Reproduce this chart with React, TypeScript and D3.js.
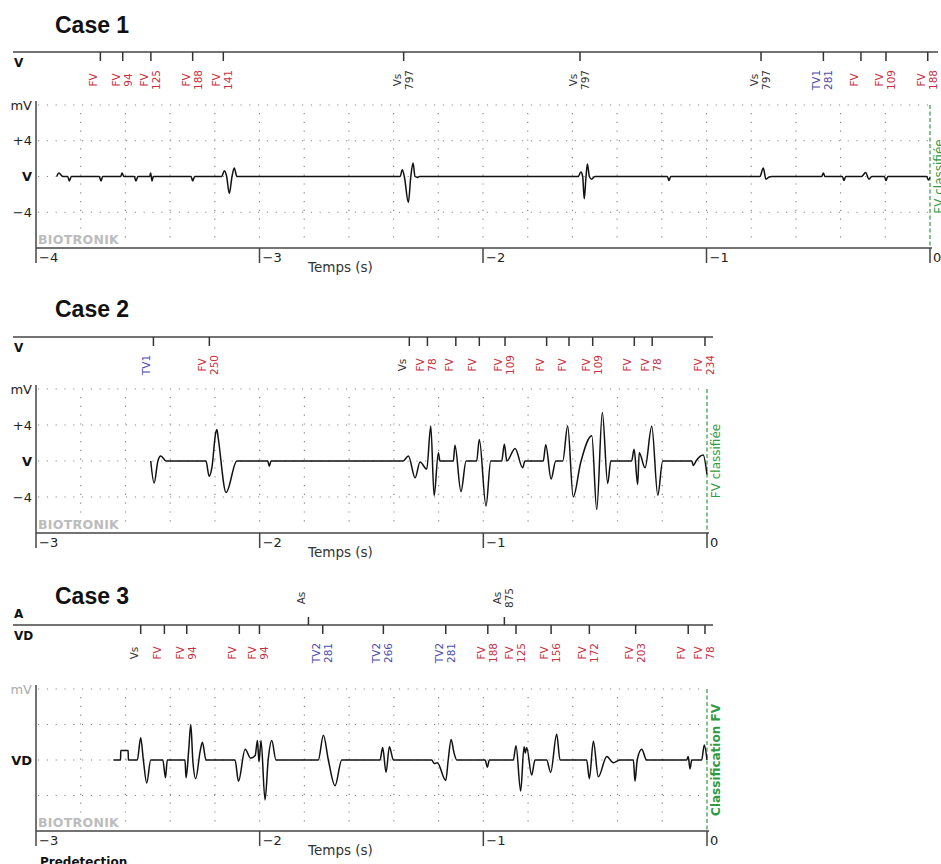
import React from "react";
import * as d3 from "d3";

// marker channel annotations (time in s before detection)
const case1MarkerTimes = [-3.712, -3.612, -3.486, -3.299, -3.162, -2.355, -1.566, -0.756, -0.477, -0.309, -0.197, -0.01];
const case1MarkerNames = ["FV", "FV", "FV", "FV", "FV", "Vs", "Vs", "Vs", "TV1", "FV", "FV", "FV"];
const case1MarkerIntervals = ["", "94", "125", "188", "141", "797", "797", "797", "281", "", "109", "188"];

const case2MarkerTimes = [-2.475, -2.225, -1.331, -1.25, -1.123, -1.018, -0.903, -0.717, -0.617, -0.511, -0.325, -0.245, -0.009];
const case2MarkerNames = ["TV1", "FV", "Vs", "FV", "FV", "FV", "FV", "FV", "FV", "FV", "FV", "FV", "FV"];
const case2MarkerIntervals = ["", "250", "", "78", "", "", "109", "", "", "109", "", "78", "234"];

const case3AtrialTimes = [-1.782, -0.906];
const case3AtrialNames = ["As", "As"];
const case3AtrialIntervals = ["", "875"];

const case3MarkerTimes = [-2.532, -2.426, -2.326, -2.091, -2.001, -1.718, -1.447, -1.168, -0.98, -0.854, -0.697, -0.526, -0.319, -0.084, -0.009];
const case3MarkerNames = ["Vs", "FV", "FV", "FV", "FV", "TV2", "TV2", "TV2", "FV", "FV", "FV", "FV", "FV", "FV", "FV"];
const case3MarkerIntervals = ["", "", "94", "", "94", "281", "266", "281", "188", "125", "156", "172", "203", "", "78"];

// IEGM traces: [time s, mV]
const case1Trace: [number, number][] = [
  [-3.907, 0], [-3.898, 0.4], [-3.88, 0], [-3.858, 0], [-3.851, -0.5], [-3.842, 0],
  [-3.717, 0], [-3.709, -0.5], [-3.702, 0],
  [-3.621, 0], [-3.615, 0.4], [-3.607, 0],
  [-3.56, 0], [-3.553, -0.5], [-3.544, 0],
  [-3.491, 0], [-3.487, 0.4], [-3.481, -0.5], [-3.475, 0],
  [-3.306, 0], [-3.299, -0.5], [-3.29, 0],
  [-3.169, 0], [-3.157, 0.65], [-3.147, 0], [-3.135, -1.9], [-3.123, 0], [-3.113, 0.95], [-3.101, 0],
  [-2.371, 0], [-2.361, 0.75], [-2.352, 0], [-2.334, -2.9], [-2.323, 0], [-2.313, 1.5], [-2.304, 0], [-2.292, -0.1], [-2.285, 0],
  [-1.574, 0], [-1.562, 0.5], [-1.554, 0], [-1.547, -2.5], [-1.539, 0], [-1.533, 1.4], [-1.524, 0], [-1.514, -0.3], [-1.499, 0],
  [-1.175, 0], [-1.168, -0.45], [-1.16, 0],
  [-0.761, 0], [-0.746, 0.95], [-0.734, -0.3], [-0.722, -0.1], [-0.708, 0],
  [-0.485, 0], [-0.477, 0.38], [-0.47, 0],
  [-0.392, 0], [-0.385, -0.45], [-0.377, 0],
  [-0.306, 0], [-0.288, 0.45], [-0.273, -0.3], [-0.261, 0],
  [-0.204, 0], [-0.197, -0.45], [-0.189, 0],
  [-0.015, 0], [-0.007, -0.4], [0, -0.1],
];

const case2Trace: [number, number][] = [
  [-2.487, 0], [-2.472, -2.45], [-2.455, 0], [-2.442, 0.55], [-2.418, 0],
  [-2.24, 0], [-2.226, -1.7], [-2.214, -0.8], [-2.196, 3.2], [-2.191, 3.5], [-2.185, 2.5], [-2.15, -3.5], [-2.102, 0],
  [-1.964, 0], [-1.957, -0.57], [-1.949, 0],
  [-1.359, 0], [-1.335, 0.56], [-1.305, -1.87], [-1.283, -0.1], [-1.253, -0.9], [-1.235, 3.9], [-1.22, -3.85], [-1.201, 0.93], [-1.194, 0],
  [-1.134, 0], [-1.127, 1.75], [-1.1, -3.4], [-1.077, 0],
  [-1.03, 0], [-1.018, 2.4], [-0.988, -5], [-0.967, 0],
  [-0.918, 0], [-0.906, 1.87], [-0.895, 0], [-0.858, 1.4], [-0.824, -0.75], [-0.814, 0],
  [-0.732, 0], [-0.721, 1.8], [-0.697, -2], [-0.676, 0],
  [-0.645, 0], [-0.623, 3.9], [-0.598, -4], [-0.565, -0.2], [-0.515, 2.8], [-0.493, -5.4], [-0.468, 5.4], [-0.444, -2.5], [-0.43, 0],
  [-0.337, 0], [-0.326, 1.3], [-0.31, -2.6], [-0.303, 0.93], [-0.277, -0.75], [-0.247, 3.85], [-0.22, -3.8], [-0.198, 0],
  [-0.068, 0], [-0.061, -0.5], [-0.049, 0], [-0.017, 0.67], [0, -1.5],
];

const case3Trace: [number, number][] = [
  [-2.654, 0], [-2.622, 0], [-2.621, 1.07], [-2.588, 1.07], [-2.587, 0],
  [-2.547, 0], [-2.532, 2.5], [-2.52, 0], [-2.505, -2.6], [-2.487, 0],
  [-2.433, 0], [-2.421, -2.0], [-2.413, 0],
  [-2.334, 0], [-2.329, -2.0], [-2.317, 1.2], [-2.308, 4.0], [-2.299, 0], [-2.286, -2.1], [-2.266, 1.0], [-2.256, 2.0], [-2.24, 0],
  [-2.11, 0], [-2.095, -2.4], [-2.065, 1.2], [-2.04, 0.2], [-2.02, 0.5], [-2.01, 2.2], [-2.003, -0.2], [-1.994, 2.2], [-1.976, -4.5], [-1.962, 0], [-1.946, 2.2], [-1.927, 0],
  [-1.738, 0], [-1.715, 2.8], [-1.693, 0], [-1.663, -2.9], [-1.633, 0],
  [-1.462, 0], [-1.45, 1.4], [-1.435, -1.4], [-1.42, 1.5], [-1.402, 0],
  [-1.231, 0], [-1.219, -0.4], [-1.206, -0.3], [-1.168, -2.3], [-1.157, 0], [-1.144, 2.3], [-1.131, 0.8], [-1.119, 0],
  [-0.992, 0], [-0.982, -0.8], [-0.973, 0],
  [-0.866, 0], [-0.854, 1.6], [-0.833, -3.5], [-0.818, 1.5], [-0.812, 0.8], [-0.806, 1.4], [-0.784, -1.7], [-0.769, 0],
  [-0.717, 0], [-0.699, -1.4], [-0.672, 2.9], [-0.657, 0],
  [-0.538, 0], [-0.526, -2.1], [-0.508, 2.1], [-0.486, -1.9], [-0.448, 0.4], [-0.419, -0.3], [-0.389, 0],
  [-0.329, 0], [-0.322, -2.4], [-0.312, 0], [-0.292, 1.2], [-0.27, 0],
  [-0.091, 0], [-0.084, 0.4], [-0.076, -1.0], [-0.068, 0], [-0.024, 0], [-0.012, 1.7], [0, 0],
];

const FONT = "'DejaVu Sans', Verdana, sans-serif";
const RED = "#c8303f";
const BLUE = "#4d4dab";
const GREEN = "#2f9a45";
const GRID = "#8a8a8a";

const markerColor = (n: string) => (n.startsWith("FV") ? RED : n.startsWith("TV") ? BLUE : "#333");

type Markers = { times: number[]; names: string[]; vals: string[] };

const Marks = ({ m, x, lineY, up }: { m: Markers; x: (t: number) => number; lineY: number; up?: boolean }) => (
  <g>
    {m.times.map((t, i) => {
      const px = x(t);
      const cy = up ? lineY - 27 : lineY + 28;
      const col = markerColor(m.names[i]);
      return (
        <g key={i}>
          <line x1={px} x2={px} y1={lineY} y2={up ? lineY - 8 : lineY + 9} stroke="#333" strokeWidth={1.5} />
          <g transform={`translate(${px},${cy}) rotate(-90)`} fontFamily={FONT} fontSize={10.5} fill={col} textAnchor="middle">
            <text y={-3}>{m.names[i]}</text>
            {m.vals[i] && <text y={9}>{m.vals[i]}</text>}
          </g>
        </g>
      );
    })}
  </g>
);

type StripProps = {
  title: string;
  titleY: number;
  lineY: number;
  top: number;
  bottom: number;
  tMin: number;
  xEnd: number;
  trace: [number, number][];
  markers: Markers;
  atrial?: Markers;
  chan: string;
  fullLabels: boolean;
  greenText: string;
  greenBold?: boolean;
  lineEnd: number;
};

const Strip = (p: StripProps) => {
  const x = d3.scaleLinear().domain([p.tMin, 0]).range([36, p.xEnd]);
  const y = d3.scaleLinear().domain([-8, 8]).range([p.bottom, p.top]);
  const line = d3
    .line<[number, number]>()
    .x((d) => x(d[0]))
    .y((d) => y(d[1]))
    .curve(d3.curveMonotoneX);
  const nGrid = Math.round(-p.tMin / 0.2);
  const gridT = d3.range(1, nGrid).map((i) => p.tMin + i * 0.2);
  const secs = d3.range(p.tMin, 1);
  const rows = [8, 4, 0, -4];
  const leftLabels = p.fullLabels
    ? [
        { v: 8, s: "mV", bold: false, c: "#222" },
        { v: 4, s: "+4", bold: false, c: "#222" },
        { v: 0, s: p.chan, bold: true, c: "#111" },
        { v: -4, s: "\u22124", bold: false, c: "#222" },
      ]
    : [
        { v: 8, s: "mV", bold: false, c: "#aaa" },
        { v: 0, s: p.chan, bold: true, c: "#111" },
      ];
  const midY = (p.top + p.bottom) / 2;
  return (
    <g>
      <text x={55} y={p.titleY} fontFamily="'Liberation Sans', Arial, sans-serif" fontWeight="bold" fontSize={23} fill="#111">
        {p.title}
      </text>
      <line x1={13} x2={p.lineEnd} y1={p.lineY} y2={p.lineY} stroke="#444" strokeWidth={1.6} />
      {p.atrial && (
        <text x={14} y={p.lineY - 7} fontFamily={FONT} fontWeight="bold" fontSize={12} fill="#111">A</text>
      )}
      <text x={14} y={p.lineY + 15} fontFamily={FONT} fontWeight="bold" fontSize={12} fill="#111">{p.chan}</text>
      {p.atrial && <Marks m={p.atrial} x={x} lineY={p.lineY} up />}
      <Marks m={p.markers} x={x} lineY={p.lineY} />

      {/* dotted grid */}
      {rows.map((v) => (
        <line key={"r" + v} x1={38} x2={p.xEnd - 2} y1={y(v)} y2={y(v)} stroke={GRID} strokeWidth={1.2} strokeDasharray="1.2 7.6" />
      ))}
      {gridT.map((t, i) => (
        <line key={"c" + i} x1={x(t)} x2={x(t)} y1={p.top + 8} y2={p.bottom - 4} stroke={GRID} strokeWidth={1.2} strokeDasharray="1.2 7.6" />
      ))}

      {leftLabels.map((l) => (
        <text key={l.s} x={32} y={y(l.v) + 4.5} textAnchor="end" fontFamily={FONT} fontSize={13} fontWeight={l.bold ? "bold" : "normal"} fill={l.c}>
          {l.s}
        </text>
      ))}

      <text x={38} y={p.bottom - 4} fontFamily={FONT} fontWeight="bold" fontSize={12.5} fill="#bcbcbc" letterSpacing={0.3}>
        BIOTRONIK
      </text>

      {/* axes */}
      <line x1={36} x2={36} y1={p.top - 4} y2={p.bottom} stroke="#444" strokeWidth={1.5} />
      <line x1={36} x2={p.xEnd + 2} y1={p.bottom} y2={p.bottom} stroke="#444" strokeWidth={1.6} />
      {secs.map((s) => (
        <g key={"s" + s}>
          <line x1={x(s)} x2={x(s)} y1={p.bottom} y2={p.bottom + 15} stroke="#444" strokeWidth={1.5} />
          <text x={x(s) + 3} y={p.bottom + 14} fontFamily={FONT} fontSize={13} fill="#222">
            {s === 0 ? "0" : "\u2212" + Math.abs(s)}
          </text>
        </g>
      ))}
      <text x={308} y={p.bottom + 24} fontFamily={FONT} fontSize={13.5} fill="#333">Temps (s)</text>

      <line x1={p.xEnd} x2={p.xEnd} y1={p.top} y2={p.bottom} stroke={GREEN} strokeWidth={1.2} strokeDasharray="4 2.5" />
      <text
        transform={`translate(${p.xEnd + 13},${midY}) rotate(-90)`}
        textAnchor="middle"
        fontFamily={FONT}
        fontSize={12}
        fontWeight={p.greenBold ? "bold" : "normal"}
        fill={GREEN}
      >
        {p.greenText}
      </text>

      <path d={line(p.trace) ?? ""} fill="none" stroke="#111" strokeWidth={1.5} strokeLinejoin="round" />
    </g>
  );
};

export default function App() {
  return (
    <svg width={941} height={864} style={{ position: "absolute", left: 0, top: 0, background: "#fff" }}>
      <Strip
        title="Case 1"
        titleY={33}
        lineY={52}
        top={105}
        bottom={248}
        tMin={-4}
        xEnd={930}
        lineEnd={938}
        trace={case1Trace}
        markers={{ times: case1MarkerTimes, names: case1MarkerNames, vals: case1MarkerIntervals }}
        chan="V"
        fullLabels
        greenText="FV classifiée"
      />
      <Strip
        title="Case 2"
        titleY={317}
        lineY={337}
        top={389}
        bottom={533}
        tMin={-3}
        xEnd={707}
        lineEnd={713}
        trace={case2Trace}
        markers={{ times: case2MarkerTimes, names: case2MarkerNames, vals: case2MarkerIntervals }}
        chan="V"
        fullLabels
        greenText="FV classifiée"
      />
      <Strip
        title="Case 3"
        titleY={604}
        lineY={625}
        top={689}
        bottom={831}
        tMin={-3}
        xEnd={707}
        lineEnd={713}
        trace={case3Trace}
        markers={{ times: case3MarkerTimes, names: case3MarkerNames, vals: case3MarkerIntervals }}
        atrial={{ times: case3AtrialTimes, names: case3AtrialNames, vals: case3AtrialIntervals }}
        chan="VD"
        fullLabels={false}
        greenText="Classification FV"
        greenBold
      />
      <text x={40} y={866} fontFamily={FONT} fontWeight="bold" fontSize={12} fill="#111">Predetection</text>
    </svg>
  );
}
